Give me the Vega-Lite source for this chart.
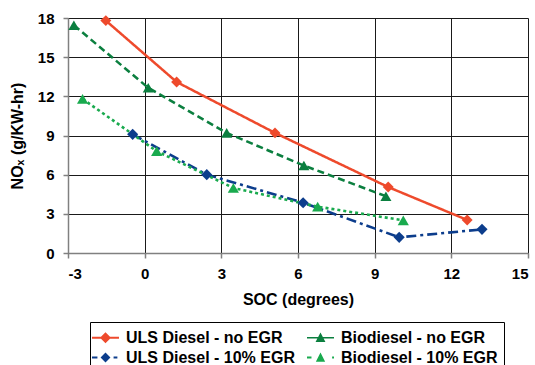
{
  "$schema": "https://vega.github.io/schema/vega-lite/v6.json",
  "width": 460,
  "height": 235,
  "autosize": {"type": "none"},
  "padding": {"left": 68, "top": 18, "right": 7, "bottom": 112},
  "background": "white",
  "config": {
    "font": "Liberation Sans",
    "view": {"stroke": null},
    "axis": {
      "labelFont": "Liberation Sans",
      "labelFontSize": 15,
      "labelFontWeight": "bold",
      "labelColor": "#000",
      "titleFont": "Liberation Sans",
      "titleFontSize": 16,
      "titleFontWeight": "bold",
      "titleColor": "#000",
      "gridColor": "#1a1a1a",
      "gridWidth": 1,
      "gridOpacity": 1,
      "domainColor": "#808080",
      "domainWidth": 1.5,
      "tickColor": "#808080",
      "tickSize": 5,
      "tickWidth": 1.5
    }
  },
  "data": {
    "values": [
      {"series": "ULS Diesel - no EGR", "soc": -1.52, "nox": 17.8},
      {"series": "ULS Diesel - no EGR", "soc": 1.25, "nox": 13.1},
      {"series": "ULS Diesel - no EGR", "soc": 5.1, "nox": 9.2},
      {"series": "ULS Diesel - no EGR", "soc": 9.53, "nox": 5.05},
      {"series": "ULS Diesel - no EGR", "soc": 12.62, "nox": 2.53},
      {"series": "Biodiesel - no EGR", "soc": -2.77, "nox": 17.45},
      {"series": "Biodiesel - no EGR", "soc": 0.14, "nox": 12.65},
      {"series": "Biodiesel - no EGR", "soc": 3.21, "nox": 9.2},
      {"series": "Biodiesel - no EGR", "soc": 6.23, "nox": 6.7},
      {"series": "Biodiesel - no EGR", "soc": 9.44, "nox": 4.35},
      {"series": "ULS Diesel - 10% EGR", "soc": -0.47, "nox": 9.09},
      {"series": "ULS Diesel - 10% EGR", "soc": 2.43, "nox": 6.0},
      {"series": "ULS Diesel - 10% EGR", "soc": 6.2, "nox": 3.85},
      {"series": "ULS Diesel - 10% EGR", "soc": 9.96, "nox": 1.2},
      {"series": "ULS Diesel - 10% EGR", "soc": 13.2, "nox": 1.81},
      {"series": "Biodiesel - 10% EGR", "soc": -2.43, "nox": 11.8},
      {"series": "Biodiesel - 10% EGR", "soc": 0.47, "nox": 7.8},
      {"series": "Biodiesel - 10% EGR", "soc": 3.47, "nox": 4.98},
      {"series": "Biodiesel - 10% EGR", "soc": 6.77, "nox": 3.55},
      {"series": "Biodiesel - 10% EGR", "soc": 10.12, "nox": 2.5}
    ]
  },
  "encoding": {
    "x": {
      "field": "soc",
      "type": "quantitative",
      "scale": {"domain": [-3, 15], "nice": false, "zero": false},
      "axis": {
        "title": "SOC (degrees)",
        "values": [-3, 0, 3, 6, 9, 12, 15],
        "labelExpr": "replace(datum.label, '−', '-')",
        "labelPadding": 8,
        "titlePadding": 10
      }
    },
    "y": {
      "field": "nox",
      "type": "quantitative",
      "scale": {"domain": [0, 18], "nice": false},
      "axis": {
        "title": "NOₓ (g/KW-hr)",
        "values": [0, 3, 6, 9, 12, 15, 18],
        "labelPadding": 9,
        "titlePadding": 12
      }
    }
  },
  "layer": [
    {
      "mark": {"type": "line", "strokeCap": "butt"},
      "encoding": {
        "stroke": {
          "field": "series",
          "type": "nominal",
          "scale": {
            "domain": ["Biodiesel - 10% EGR", "ULS Diesel - 10% EGR", "Biodiesel - no EGR", "ULS Diesel - no EGR"],
            "range": ["#19AA4E", "#0C3D8C", "#0B7F3F", "#EE4A2C"]
          },
          "legend": null
        },
        "strokeDash": {
          "field": "series",
          "type": "nominal",
          "scale": {
            "domain": ["Biodiesel - 10% EGR", "ULS Diesel - 10% EGR", "Biodiesel - no EGR", "ULS Diesel - no EGR"],
            "range": [[3, 3], [10, 4, 3, 4], [7, 4], [1, 0]]
          },
          "legend": null
        },
        "strokeWidth": {
          "field": "series",
          "type": "nominal",
          "scale": {
            "domain": ["Biodiesel - 10% EGR", "ULS Diesel - 10% EGR", "Biodiesel - no EGR", "ULS Diesel - no EGR"],
            "range": [2.6, 2.5, 1.6, 2.6]
          },
          "legend": null
        }
      }
    },
    {
      "transform": [{"filter": {"field": "series", "oneOf": ["ULS Diesel - no EGR", "ULS Diesel - 10% EGR"]}}],
      "mark": {"type": "point", "filled": true, "opacity": 1, "shape": "diamond"},
      "encoding": {
        "color": {"field": "series", "type": "nominal"},
        "size": {
          "field": "series",
          "type": "nominal",
          "scale": {
            "domain": ["Biodiesel - 10% EGR", "ULS Diesel - 10% EGR", "Biodiesel - no EGR", "ULS Diesel - no EGR"],
            "range": [125, 120, 190, 190]
          },
          "legend": null
        }
      }
    },
    {
      "transform": [{"filter": {"field": "series", "oneOf": ["Biodiesel - no EGR", "Biodiesel - 10% EGR"]}}],
      "mark": {"type": "point", "filled": true, "opacity": 1, "shape": "triangle-up"},
      "encoding": {
        "color": {"field": "series", "type": "nominal"},
        "size": {
          "field": "series",
          "type": "nominal",
          "scale": {
            "domain": ["Biodiesel - 10% EGR", "ULS Diesel - 10% EGR", "Biodiesel - no EGR", "ULS Diesel - no EGR"],
            "range": [125, 120, 190, 190]
          },
          "legend": null
        }
      }
    },
    {
      "mark": {"type": "point", "filled": true, "opacity": 0},
      "encoding": {
        "color": {
          "field": "series",
          "type": "nominal",
          "scale": {
            "domain": ["ULS Diesel - no EGR", "ULS Diesel - 10% EGR", "Biodiesel - no EGR", "Biodiesel - 10% EGR"],
            "range": ["#EE4A2C", "#0C3D8C", "#0B7F3F", "#19AA4E"]
          },
          "legend": {
            "title": null,
            "orient": "none",
            "legendX": 22,
            "legendY": 304,
            "columns": 2,
            "labelFont": "Liberation Sans",
            "labelFontSize": 16,
            "labelFontWeight": "bold",
            "labelColor": "#000",
            "labelLimit": 300,
            "labelOffset": 11,
            "labelExpr": "indexof(datum.label, 'Bio') === 0 ? datum.label + '  ' : datum.label",
            "columnPadding": 12,
            "rowPadding": 2,
            "padding": 6,
            "symbolSize": 361,
            "symbolStrokeWidth": 0,
            "symbolOpacity": 1,
            "strokeColor": "#000",
            "fillColor": "#fff"
          }
        },
        "shape": {
          "field": "series",
          "type": "nominal",
          "scale": {
            "domain": ["ULS Diesel - no EGR", "ULS Diesel - 10% EGR", "Biodiesel - no EGR", "Biodiesel - 10% EGR"],
            "range": [
              "M-1.42,-0.11H1.42V0.11H-1.42Z M0,-0.58L0.58,0L0,0.58L-0.58,0Z",
              "M-1.42,-0.11H-0.85V0.11H-1.42Z M0.85,-0.11H1.25V0.11H0.85Z M0,-0.52L0.52,0L0,0.52L-0.52,0Z",
              "M-1.42,-0.09H1.42V0.09H-1.42Z M0,-0.55L0.52,0.44L-0.52,0.44Z",
              "M-1.42,-0.11H-0.95V0.11H-1.42Z M1.22,-0.11H1.42V0.11H1.22Z M0,-0.52L0.49,0.44L-0.49,0.44Z"
            ]
          },
          "legend": {
            "title": null,
            "orient": "none",
            "legendX": 22,
            "legendY": 304,
            "columns": 2,
            "labelFont": "Liberation Sans",
            "labelFontSize": 16,
            "labelFontWeight": "bold",
            "labelColor": "#000",
            "labelLimit": 300,
            "labelOffset": 11,
            "labelExpr": "indexof(datum.label, 'Bio') === 0 ? datum.label + '  ' : datum.label",
            "columnPadding": 12,
            "rowPadding": 2,
            "padding": 6,
            "symbolSize": 361,
            "symbolStrokeWidth": 0,
            "symbolOpacity": 1,
            "strokeColor": "#000",
            "fillColor": "#fff"
          }
        }
      }
    }
  ]
}
